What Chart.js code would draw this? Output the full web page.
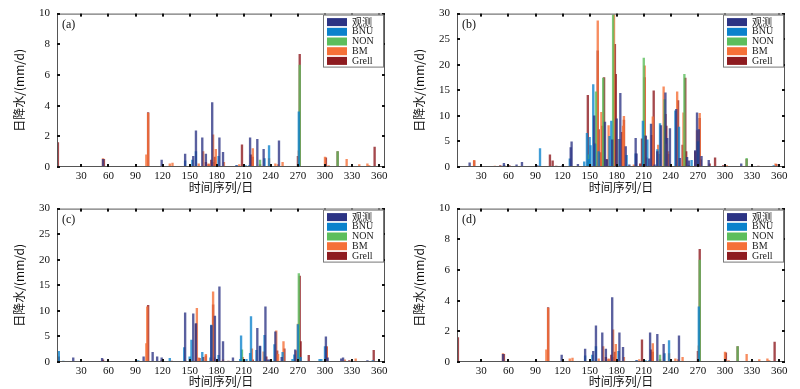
<!DOCTYPE html>
<html>
<head>
<meta charset="utf-8">
<script src="https://cdn.jsdelivr.net/npm/chart.js@4.4.1/dist/chart.umd.min.js"></script>
<style>
  body { margin: 0; background: #fff; }
  #wrap { position: relative; width: 800px; height: 389px; }
  #wrap canvas { position: absolute; }
</style>
</head>
<body>
<div id="wrap">
  <canvas id="cA" width="400" height="195" style="left:0;top:0"></canvas>
  <canvas id="cB" width="400" height="195" style="left:400px;top:0"></canvas>
  <canvas id="cC" width="400" height="194" style="left:0;top:195px"></canvas>
  <canvas id="cD" width="400" height="194" style="left:400px;top:195px"></canvas>
</div>
<script>
const seriesNames = ['观测', 'BNU', 'NON', 'BM', 'Grell'];
const seriesColors = ['rgba(43,51,132,0.78)', 'rgba(10,130,204,0.78)', 'rgba(92,190,92,0.8)', 'rgba(245,112,56,0.8)', 'rgba(142,27,32,0.8)'];
const xTicks = [30, 60, 90, 120, 150, 180, 210, 240, 270, 300, 330, 360];

// panel (a) and (d): [day, mm/d]
const obsA = [[54,0.5],[119,0.45],[145,0.85],[154,0.7],[157,2.35],[164,1.9],[168,0.85],[175,4.2],[183,1.9],[187,0.95],[202,0.1],[217,1.9],[225,1.8],[232,1.15],[249,1.7],[259,0.05]];
const bnuA = [[145,0.4],[153,0.45],[157,1.0],[182,0.7],[202,0.1],[212,0.1],[216,0.1],[233,0.55],[238,1.4],[271,3.6]];
const nonA = [[228,0.45],[272,6.65],[314,1.0]];
const bmA = [[54,0.55],[102,0.8],[104,3.5],[125,0.05],[128,0.2],[131,0.25],[160,0.2],[165,1.0],[171,0.2],[176,2.1],[179,1.15],[188,0.3],[205,0.15],[220,1.2],[238,0.55],[245,0.2],[248,0.15],[253,0.3],[271,1.05],[300,0.65],[304,0.1],[324,0.5],[338,0.15],[347,0.2],[349,0.1]];
const grellA = [[4,1.6],[55,0.5],[104,3.55],[168,0.3],[171,0.15],[174,0.45],[176,0.3],[178,0.65],[208,1.45],[218,0.8],[220,0.65],[228,0.15],[270,0.7],[272,7.35],[301,0.6],[314,1.0],[355,1.3]];

// panel (b)
const obsB = [[17,0.8],[55,0.7],[69,0.4],[75,0.9],[92,0.3],[120,0.3],[129,3.8],[130,4.9],[137,0.5],[155,10.0],[167,8.8],[169,1.4],[175,5.3],[180,9.4],[184,14.4],[190,4.0],[194,0.4],[201,5.6],[202,2.6],[212,6.1],[216,1.6],[218,8.4],[222,0.4],[225,3.0],[229,8.1],[234,14.5],[236,5.6],[239,7.5],[246,11.3],[250,1.7],[258,1.9],[260,1.2],[267,3.2],[269,10.6],[271,7.3],[274,2.1],[282,1.3],[318,0.6]];
const bnuB = [[55,0.3],[95,3.6],[128,1.6],[144,1.0],[147,6.6],[149,1.5],[150,5.8],[151,4.2],[154,16.1],[156,4.5],[160,3.0],[172,6.0],[174,9.0],[183,5.4],[191,2.3],[201,2.6],[209,9.0],[214,5.3],[225,3.4],[228,8.5],[245,11.0],[249,7.8],[260,0.3],[263,1.3],[270,4.9],[354,0.3]];
const nonB = [[149,2.4],[157,14.7],[165,17.4],[176,29.7],[210,21.3],[233,13.2],[255,18.1],[270,5.0],[324,1.7]];
const bmB = [[22,1.3],[45,0.2],[156,4.7],[159,28.6],[163,10.7],[171,8.1],[177,29.7],[181,5.4],[187,8.0],[188,9.9],[199,0.4],[211,19.8],[220,9.8],[226,4.3],[232,15.7],[235,4.5],[237,3.0],[247,14.7],[254,10.6],[269,7.1],[272,10.5],[302,0.3],[356,0.6]];
const grellB = [[22,1.2],[45,0.1],[51,0.3],[56,0.2],[61,0.3],[106,2.4],[109,1.2],[113,0.2],[148,14.0],[159,22.7],[160,7.3],[162,2.8],[164,8.0],[166,17.5],[169,1.5],[178,24.0],[179,18.1],[186,6.8],[188,9.2],[206,0.6],[208,5.5],[211,17.5],[212,6.0],[213,1.8],[219,6.2],[221,14.9],[227,2.5],[234,10.3],[235,8.0],[237,2.5],[248,13.0],[253,4.3],[256,17.4],[257,3.0],[267,3.0],[272,9.5],[273,1.4],[283,0.6],[289,1.8],[298,0.3],[324,1.5],[337,0.2],[357,0.5]];

// panel (c)
const obsC = [[21,0.8],[53,0.7],[99,1.0],[109,1.9],[114,1.0],[119,0.8],[145,9.6],[154,9.4],[157,7.5],[174,7.1],[178,9.0],[183,14.7],[187,4.0],[198,0.8],[225,6.6],[228,3.1],[234,10.8],[237,0.4],[239,0.4],[245,5.9],[252,0.9],[267,2.4],[301,4.9],[303,0.8],[318,0.6],[320,0.8],[347,0.3]];
const bnuC = [[5,2.1],[10,0.2],[93,0.3],[128,0.7],[144,2.8],[150,1.0],[152,4.3],[164,1.9],[173,0.8],[174,7.2],[182,1.3],[206,0.5],[207,5.1],[213,0.5],[217,1.7],[218,8.9],[224,2.3],[228,3.0],[233,5.2],[244,3.4],[253,1.9],[264,0.5],[266,1.4],[270,7.3],[273,0.9],[294,0.5],[296,0.5],[300,3.0],[353,0.3]];
const nonC = [[208,2.4],[271,17.3]];
const bmC = [[102,3.6],[103,10.8],[145,0.3],[158,10.5],[160,0.8],[168,1.5],[176,13.7],[187,0.4],[209,0.9],[219,2.6],[232,2.0],[246,6.1],[248,1.5],[254,4.0],[268,2.2],[270,7.4],[302,3.0],[322,0.4],[334,0.6]];
const grellC = [[5,1.0],[54,0.4],[104,11.1],[119,0.3],[130,0.2],[157,7.4],[161,0.7],[165,0.9],[168,1.2],[176,11.2],[177,0.8],[193,0.2],[210,0.5],[220,0.4],[235,1.0],[247,2.2],[255,2.6],[272,16.8],[273,4.0],[282,1.3],[302,2.9],[327,0.3],[354,2.3]];

const serif = "'Liberation Serif', 'Noto Sans CJK SC', serif";
const cjk = "'Noto Sans CJK SC', 'Liberation Serif', sans-serif";

// frame, inside tick marks, legend box and panel letter
const panelDeco = {
  id: 'panelDeco',
  afterDraw(chart) {
    const ctx = chart.ctx, a = chart.chartArea;
    const xs = chart.scales.x, ys = chart.scales.y;
    ctx.save();
    ctx.strokeStyle = '#555';
    ctx.lineWidth = 1;
    ctx.strokeRect(a.left + 0.5, a.top + 0.5, a.right - a.left - 1, a.bottom - a.top - 1);
    ctx.fillStyle = '#111';
    xs.ticks.forEach(t => {
      const px = Math.round(xs.getPixelForValue(t.value));
      ctx.fillRect(px - 1, a.bottom - 3, 2, 3);
      ctx.fillRect(px - 1, a.top, 2, 3);
    });
    ys.ticks.forEach(t => {
      const py = Math.round(ys.getPixelForValue(t.value));
      ctx.fillRect(a.left, py - 1, 3, 2);
      ctx.fillRect(a.right - 3, py - 1, 3, 2);
    });
    // legend
    const lx = a.right - 62, ly = a.top + 1, lw = 60, lh = 52;
    ctx.fillStyle = '#fff';
    ctx.fillRect(lx, ly, lw, lh);
    ctx.strokeStyle = '#777';
    ctx.strokeRect(lx + 0.5, ly + 0.5, lw, lh);
    chart.data.datasets.forEach((ds, i) => {
      const ry = ly + 7.5 + i * 9.7;
      ctx.fillStyle = ds.backgroundColor.replace(/[\d.]+\)$/, '1)');
      ctx.fillRect(lx + 4, ry - 4, 20, 8);
      ctx.fillStyle = '#222';
      ctx.font = (i === 0 ? '10px ' + cjk : '10px ' + serif);
      ctx.textBaseline = 'middle';
      ctx.fillText(ds.label, lx + 29, ry);
    });
    ctx.font = '12px ' + serif;
    ctx.fillStyle = '#111';
    ctx.textBaseline = 'middle';
    ctx.fillText(chart.options.plugins.panelDeco.letter, a.left + 5, a.top + 11);
    ctx.restore();
  }
};

function makePanel(id, letter, series, yMax, yStep, xHeight) {
  const datasets = series.map((s, i) => ({
    label: seriesNames[i],
    data: s.map(([d, v]) => ({ x: d, y: v })),
    backgroundColor: seriesColors[i],
    borderWidth: 0,
    barThickness: 1.7,
    grouped: false
  }));
  new Chart(document.getElementById(id), {
    type: 'bar',
    data: { datasets },
    plugins: [panelDeco],
    options: {
      responsive: false,
      animation: false,
      devicePixelRatio: 1,
      layout: { padding: { top: 6, right: 15, left: 0, bottom: 0 } },
      plugins: { legend: { display: false }, tooltip: { enabled: false }, panelDeco: { letter } },
      scales: {
        x: {
          type: 'linear',
          offset: false,
          min: 3,
          max: 366.5,
          afterBuildTicks: s => { s.ticks = xTicks.map(v => ({ value: v })); },
          afterFit: s => { s.height = xHeight; },
          grid: { display: false, drawTicks: false },
          border: { display: false },
          ticks: { font: { family: serif, size: 11 }, color: '#111', padding: 3, maxRotation: 0, autoSkip: false },
          title: { display: true, text: '时间序列/日', font: { family: cjk, size: 12 }, color: '#111', padding: { top: 0, bottom: 0 } }
        },
        y: {
          min: 0,
          max: yMax,
          afterFit: s => { s.width = 57; },
          grid: { display: false, drawTicks: false },
          border: { display: false },
          ticks: { stepSize: yStep, font: { family: serif, size: 11 }, color: '#111', padding: 7 },
          title: { display: true, text: '日降水/(mm/d)', font: { family: cjk, size: 12 }, color: '#111', padding: { top: 12, bottom: 0 } }
        }
      }
    }
  });
}

makePanel('cA', '(a)', [obsA, bnuA, nonA, bmA, grellA], 10, 2, 28);
makePanel('cB', '(b)', [obsB, bnuB, nonB, bmB, grellB], 30, 5, 28);
makePanel('cC', '(c)', [obsC, bnuC, nonC, bmC, grellC], 30, 5, 27);
makePanel('cD', '(d)', [obsA, bnuA, nonA, bmA, grellA], 10, 1, 27);
</script>
</body>
</html>
